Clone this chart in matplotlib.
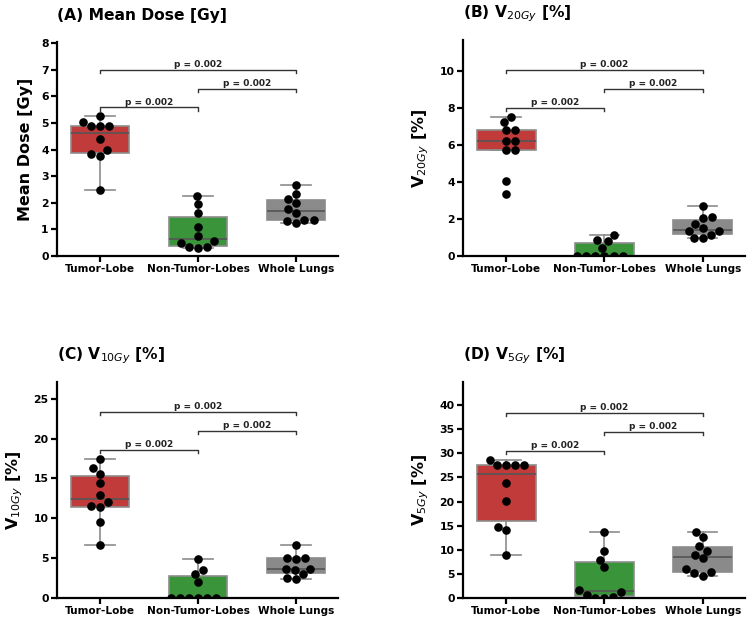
import numpy as np
import pandas as pd
import matplotlib
matplotlib.use("Agg")
import matplotlib.pyplot as plt
import seaborn as sns

categories = ["Tumor-Lobe", "Non-Tumor-Lobes", "Whole Lungs"]

# Panel A: Mean dose [Gy]
mean_tumor = [5.25, 5.05, 4.9, 4.88, 4.88, 4.4, 4.0, 3.85, 3.78, 2.47]
mean_nontumor = [2.27, 1.95, 1.6, 1.1, 0.75, 0.55, 0.48, 0.35, 0.33, 0.3]
mean_whole = [2.67, 2.33, 2.15, 2.0, 1.75, 1.6, 1.37, 1.35, 1.33, 1.25]

# Panel B: V20Gy [%]
v20_tumor = [7.55, 7.25, 6.8, 6.8, 6.25, 6.25, 5.75, 5.75, 4.05, 3.35]
v20_nontumor = [1.15, 0.85, 0.8, 0.45, 0, 0, 0, 0, 0, 0]
v20_whole = [2.72, 2.1, 2.05, 1.75, 1.5, 1.35, 1.35, 1.15, 0.95, 0.95]

# Panel C: V10Gy [%]
v10_tumor = [17.4, 16.3, 15.6, 14.4, 12.9, 12.0, 11.5, 11.4, 9.5, 6.7]
v10_nontumor = [4.9, 3.5, 3.0, 2.0, 0, 0, 0, 0, 0, 0]
v10_whole = [6.6, 5.0, 5.0, 4.9, 3.7, 3.6, 3.5, 3.0, 2.5, 2.4]

# Panel D: V5Gy [%]
v5_tumor = [28.7, 27.5, 27.5, 27.5, 27.5, 23.8, 20.1, 14.7, 14.2, 9.0]
v5_nontumor = [13.7, 9.8, 7.9, 6.4, 1.6, 1.3, 0.6, 0.3, 0.1, 0.05]
v5_whole = [13.7, 12.6, 10.7, 9.8, 9.0, 8.2, 6.0, 5.3, 5.2, 4.6]

p_pairs = [(0, 1), (1, 2), (0, 2)]
p_labels = ["p = 0.002", "p = 0.002", "p = 0.002"]

titles = ["(A) Mean Dose [Gy]", r"(B) V$_{\mathit{20Gy}}$ [%]",
          r"(C) V$_{\mathit{10Gy}}$ [%]", r"(D) V$_{\mathit{5Gy}}$ [%]"]
ylabels = ["Mean Dose [Gy]", r"V$_{\mathit{20Gy}}$ [%]",
           r"V$_{\mathit{10Gy}}$ [%]", r"V$_{\mathit{5Gy}}$ [%]"]
panels = [
    [mean_tumor, mean_nontumor, mean_whole],
    [v20_tumor, v20_nontumor, v20_whole],
    [v10_tumor, v10_nontumor, v10_whole],
    [v5_tumor, v5_nontumor, v5_whole],
]
ytops = [8.05, 11.7, 27.1, 44.8]
ysteps = [1, 2, 5, 5]

box_colors = ["#c23b3b", "#3a953a", "#8a8a8a"]

plt.rcParams['font.family'] = ['DejaVu Sans']
plt.rcParams['mathtext.fontset'] = 'dejavusans'

fig = plt.figure(figsize=(7.5, 6.23), dpi=100)
W, H = 750, 623
rects = [(57, 42, 338, 256), (463, 40, 745, 256), (57, 382, 338, 598), (463, 382, 745, 598)]

for i, (r, data) in enumerate(zip(rects, panels)):
    x0, y0, x1, y1 = r
    ax = fig.add_axes([x0 / W, 1 - y1 / H, (x1 - x0) / W, (y1 - y0) / H])
    bp = ax.boxplot(data, positions=[0, 1, 2], widths=0.6, patch_artist=True,
                    showfliers=False, whis=1.5, zorder=1,
                    medianprops=dict(color="#555555", linewidth=1.2),
                    whiskerprops=dict(color="#8c8c8c", linewidth=1.2),
                    capprops=dict(color="#8c8c8c", linewidth=1.2),
                    boxprops=dict(edgecolor="#8c8c8c", linewidth=1.2))
    for patch, c in zip(bp['boxes'], box_colors):
        patch.set_facecolor(c)
    df = pd.DataFrame({"group": np.repeat(categories, [len(d) for d in data]),
                       "value": np.concatenate(data)})
    sns.swarmplot(data=df, x="group", y="value", order=categories, ax=ax,
                  color="black", size=6.2, zorder=3)
    ytop = ytops[i]
    ax.set_ylim(0, ytop)
    ax.set_xlim(-0.44, 2.43)
    ax.yaxis.set_major_locator(matplotlib.ticker.MultipleLocator(ysteps[i]))
    ax.set_xticks([0, 1, 2])
    ax.set_xticklabels(categories, fontsize=7.6, fontweight="bold")
    for lab in ax.get_yticklabels():
        lab.set_fontsize(7.8)
        lab.set_fontweight("bold")
    ax.set_xlabel("")
    ax.set_ylabel(ylabels[i], fontsize=11.5, fontweight="bold", labelpad=6)
    ax.set_title(titles[i], loc="left", fontsize=11.2, fontweight="bold", pad=16)
    for s in ["top", "right"]:
        ax.spines[s].set_visible(False)
    for s in ["left", "bottom"]:
        ax.spines[s].set_linewidth(1.6)
    ax.tick_params(width=1.6, length=4, pad=2)

    dmax = max(max(d) for d in data)
    R = ytop
    base = dmax + 0.042 * R
    step = 0.088 * R
    h = 0.015 * R
    for k, ((a, b), lab) in enumerate(zip(p_pairs, p_labels)):
        yb = base + k * step
        ax.plot([a, a, b, b], [yb - h, yb, yb, yb - h], color="#333333", lw=1.0, zorder=4)
        ax.text((a + b) / 2, yb + 0.004 * R, lab, ha="center", va="bottom",
                fontsize=6.5, fontweight="bold", color="#222222")

fig.savefig("out.png", dpi=100)
